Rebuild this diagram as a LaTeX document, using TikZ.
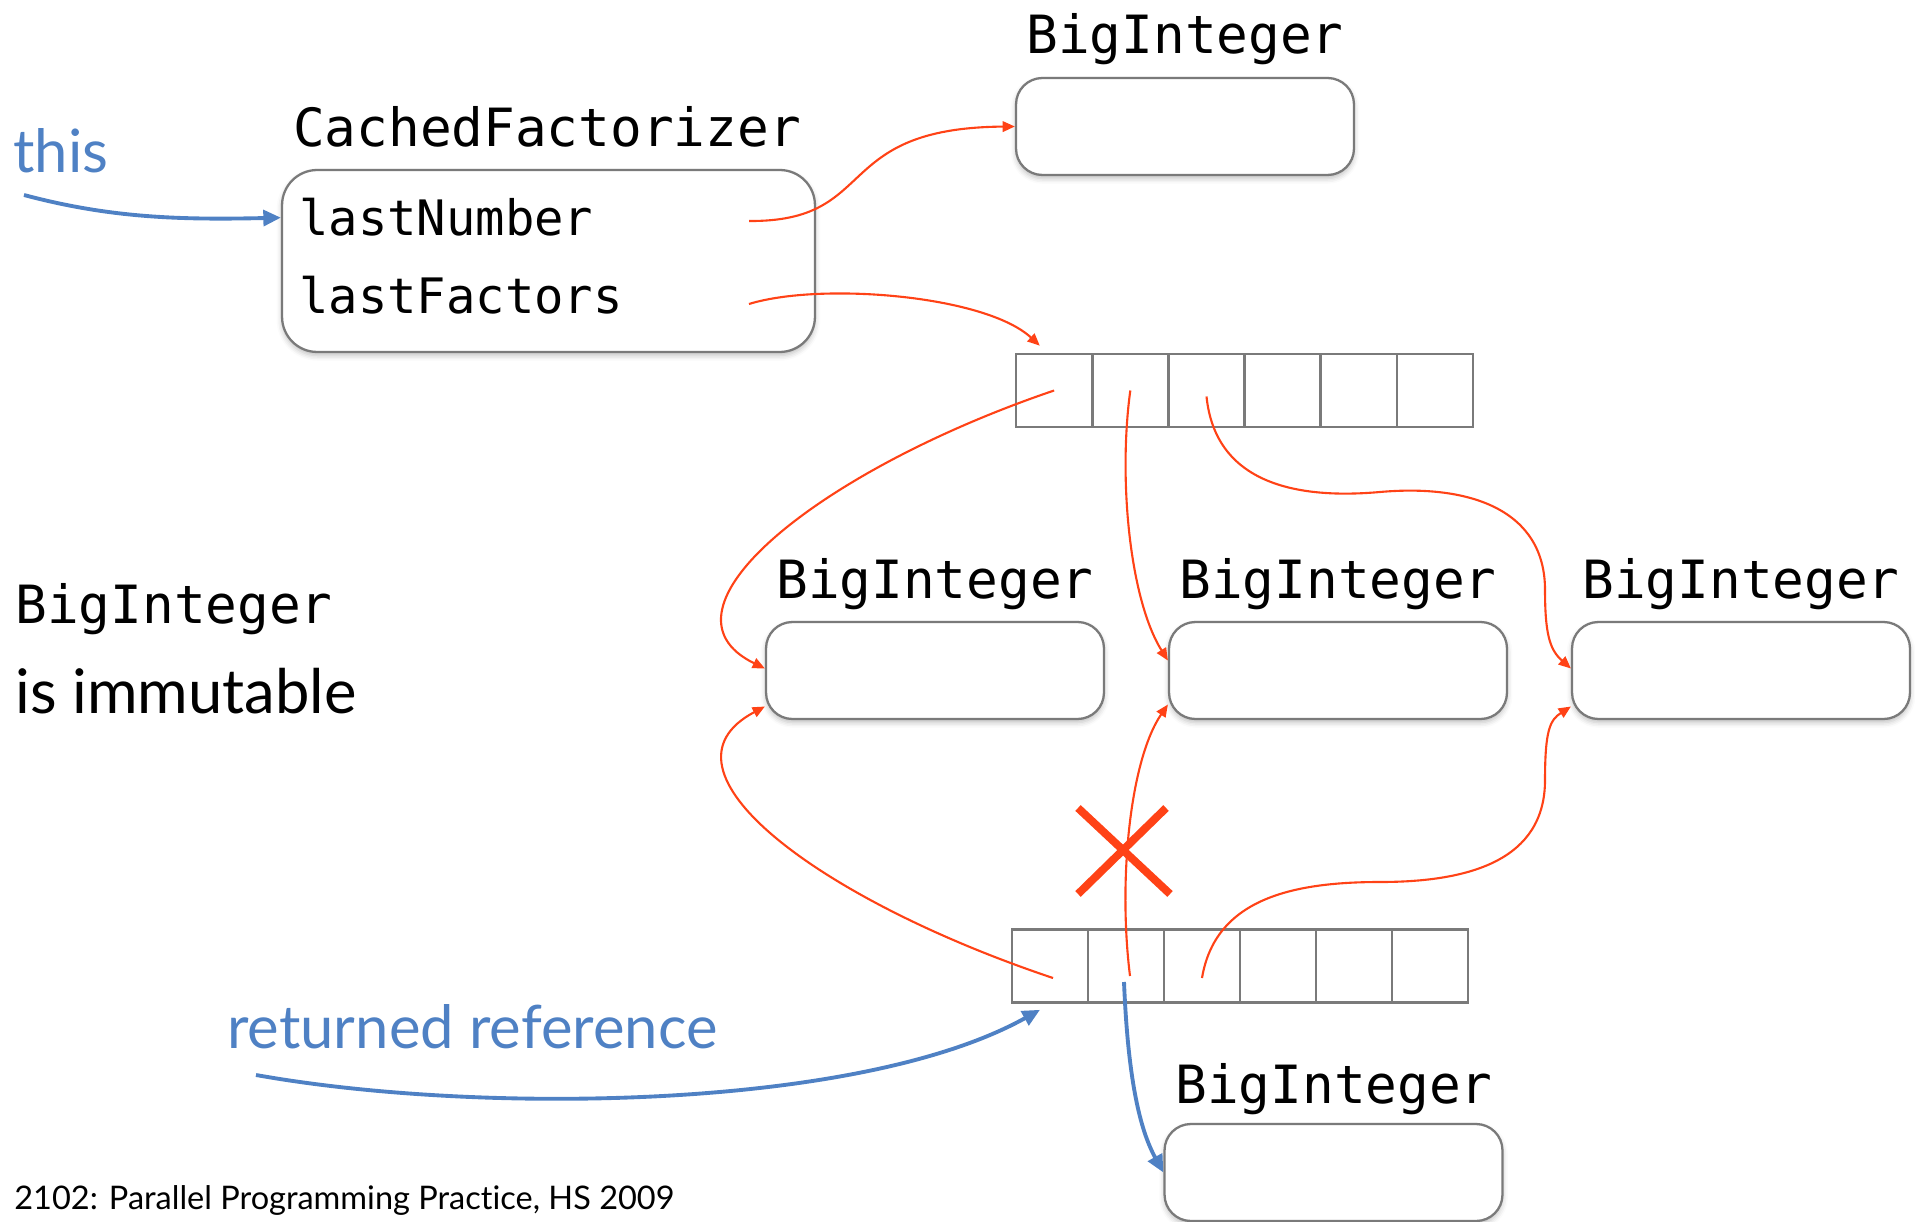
\documentclass[tikz,border=0pt]{standalone}
\usepackage{fontspec}
\setmainfont[Ligatures=NoCommon]{Lato}
\setmonofont{DejaVu Sans Mono}
\usepackage{tikz}
\usetikzlibrary{calc}
\usetikzlibrary{arrows.meta}
\usetikzlibrary{shadows.blur}
\definecolor{ptrred}{HTML}{FF4216}
\definecolor{ptrblue}{HTML}{4F81C4}
\definecolor{boxgray}{HTML}{7A7A7A}
\tikzset{ obj/.style = {rectangle, rounded corners=15pt, draw=boxgray, line width=1.3pt, fill=white, inner sep=0pt,
    blur shadow={shadow xshift=0pt, shadow yshift=-2pt, shadow blur radius=3pt, shadow opacity=25}} }
\tikzset{ bigint/.style = {obj, minimum width=6.76cm, minimum height=1.94cm} }
\tikzset{ cell/.style = {rectangle, draw=boxgray, line width=1.5pt, fill=white, inner sep=0pt, minimum width=1.52cm, minimum height=1.46cm} }
\tikzset{ title/.style = {anchor=base, inner sep=0pt, font=\ttfamily\fontsize{30}{36}\selectfont} }
\tikzset{ field/.style = {anchor=base west, inner sep=0pt, font=\ttfamily\fontsize{27.8}{33}\selectfont} }
\tikzset{ note/.style = {anchor=base west, inner sep=0pt, font=\fontsize{34}{40}\selectfont} }
\tikzset{ ref/.style = {ptrred, line width=1.2pt, -{Triangle[length=7pt,width=6pt]}} }
\tikzset{ blueref/.style = {ptrblue, line width=2.2pt, -{Triangle[length=10pt,width=9pt]}} }

\begin{document}
\begin{tikzpicture}[x=0.02cm, y=-0.02cm]
    \useasboundingbox (0,0) rectangle (1915,1222);

    \node[obj, minimum width=10.66cm, minimum height=3.64cm, rounded corners=20pt] (cf) at (548.5,261) {};
    \node[title] (cftitle) at (547,147) {CachedFactorizer};
    \node[field] (lastnum) at (299,236) {lastNumber};
    \node[field] (lastfac) at (299,314) {lastFactors};

    \node[bigint] (bitop) at (1185,126.5) {};
    \node[title] (bitoptitle) at (1185,54) {BigInteger};

    \foreach \i in {1,...,6} {
        \node[cell] (ta\i) at ({1016+76.2*(\i-0.5)},390.5) {};
        \node[cell] (ba\i) at ({1012+76*(\i-0.5)},966) {};
    }

    \node[bigint] (bi1) at (935,670.5) {};
    \node[bigint] (bi2) at (1338,670.5) {};
    \node[bigint] (bi3) at (1741,670.5) {};
    \node[title] (bi1title) at (935,598) {BigInteger};
    \node[title] (bi2title) at (1338,598) {BigInteger};
    \node[title] (bi3title) at (1741,598) {BigInteger};

    \node[bigint] (bbi) at (1333.5,1172.5) {};
    \node[title] (bbititle) at (1334,1103) {BigInteger};

    \node[note, ptrblue] (this) at (13,173) {this};
    \node[note, font=\ttfamily\fontsize{30}{36}\selectfont] (immut1) at (15,623) {BigInteger};
    \node[note, font=\fontsize{35}{40}\selectfont] (immut2) at (15,713) {is immutable};
    \node[note, ptrblue] (retref) at (227,1048) {returned reference};
    \node[note, font=\fontsize{18.5}{22}\selectfont] (footer) at (14,1209) {2102: Parallel Programming Practice, HS 2009};

    \coordinate (thistail) at (24,195);
    \coordinate (rettail) at (256,1075);
    \coordinate (numtail) at (749,221);
    \coordinate (factail) at (749,304);
    \coordinate (cut) at (1124,851);

    % fields of the object
    \draw[ref] (numtail) .. controls (880,222) and (830,128) .. (bitop.west);
    \draw[ref] (factail) .. controls (820,282) and (985,295) .. ($(ta1.north west)+(25,-7)$);

    % old array
    \draw[ref] (ta1.center) .. controls (820,470) and (645,610) .. ($(bi1.west)+(0,-2)$);
    \draw[ref] (ta2.center) .. controls (1118,480) and (1130,600) .. ($(bi2.west)+(0,-10)$);
    \draw[ref] ($(ta3.center)+(0,6)$) .. controls (1215,480) and (1290,500) .. (1380,492)
        .. controls (1470,484) and (1545,510) .. (1545,590)
        .. controls (1545,635) and (1550,650) .. ($(bi3.west)+(0,-2)$);

    % new array
    \draw[ref] ($(ba1.center)+(3,12)$) .. controls (820,900) and (645,770) .. ($(bi1.west)+(0,36)$);
    \draw[ref] ($(ba2.center)+(4,10)$) .. controls (1118,880) and (1130,760) .. ($(bi2.west)+(0,34)$);
    \draw[ref] ($(ba3.center)+(0,12)$) .. controls (1215,900) and (1290,882) .. (1380,882)
        .. controls (1470,882) and (1545,860) .. (1545,780)
        .. controls (1545,730) and (1550,720) .. ($(bi3.west)+(0,36)$);

    \draw[ptrred, line width=4.5pt] ($(cut)+(-46,-43)$) -- ($(cut)+(46,43)$);
    \draw[ptrred, line width=4.5pt] ($(cut)+(-46,43)$) -- ($(cut)+(42,-43)$);

    \draw[blueref] (thistail) .. controls (110,218) and (180,220) .. (cf.west |- lastnum.center);
    \draw[blueref] (rettail) .. controls (480,1115) and (860,1110) .. ($(ba1.south)+(-10,6)$);
    \draw[blueref] ($(ba2.center)+(-2,16)$) .. controls (1128,1080) and (1140,1130) .. (bbi.west);
\end{tikzpicture}
\end{document}
